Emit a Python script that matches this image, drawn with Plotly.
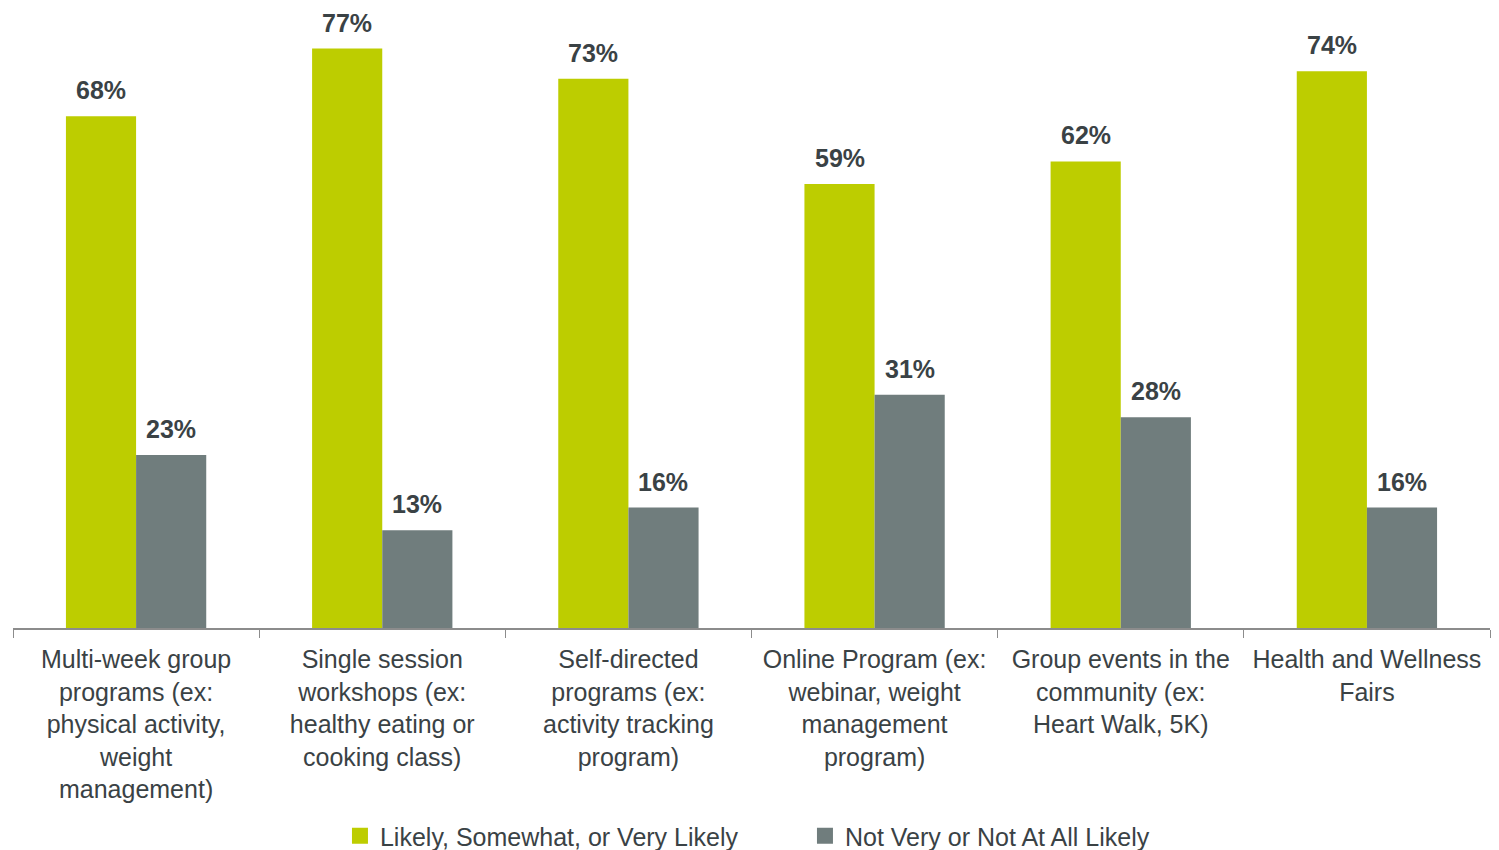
import plotly.graph_objects as go

categories = [
    "Multi-week group<br>programs (ex:<br>physical activity,<br>weight<br>management)",
    "Single session<br>workshops (ex:<br>healthy eating or<br>cooking class)",
    "Self-directed<br>programs (ex:<br>activity tracking<br>program)",
    "Online Program (ex:<br>webinar, weight<br>management<br>program)",
    "Group events in the<br>community (ex:<br>Heart Walk, 5K)",
    "Health and Wellness<br>Fairs",
]
likely = [68, 77, 73, 59, 62, 74]
not_likely = [23, 13, 16, 31, 28, 16]
series_names = ["Likely, Somewhat, or Very Likely", "Not Very or Not At All Likely"]

GREEN = "#BDCD00"
GRAY = "#707D7D"
TEXT = "#3A4245"
FONT = "Liberation Sans, Arial, sans-serif"

fig = go.Figure()
for vals, name, color in [(likely, series_names[0], GREEN), (not_likely, series_names[1], GRAY)]:
    fig.add_trace(go.Bar(x=categories, y=vals, name=name, marker_color=color,
                         marker_line_width=0, showlegend=False, cliponaxis=False))
    # legend proxy with larger square symbol
    fig.add_trace(go.Scatter(x=[None], y=[None], mode="markers", name=name,
                             marker=dict(symbol="square", size=16, color=color)))

# value labels
for vals, shift in [(likely, -35), (not_likely, 35)]:
    for c, v in zip(categories, vals):
        fig.add_annotation(x=c, y=v, text=f"<b>{v}%</b>", showarrow=False,
                           xshift=shift, yshift=10, yanchor="bottom",
                           font=dict(size=25, color=TEXT, family=FONT))

fig.update_layout(
    width=1499, height=850,
    margin=dict(l=13, r=9, t=26, b=222, autoexpand=False),
    barmode="group", bargap=0.43, bargroupgap=0,
    plot_bgcolor="white", paper_bgcolor="white",
    font=dict(family=FONT, size=25, color=TEXT),
    showlegend=True,
    legend=dict(orientation="h", xref="container", x=0.537, xanchor="center",
                yref="container", y=1 - 836 / 850, yanchor="middle",
                font=dict(size=25, color=TEXT), itemwidth=30, traceorder="normal",
                entrywidth=420),
)
fig.update_xaxes(
    showline=True, linecolor="#8C8C8C", linewidth=2,
    ticks="outside", tickson="boundaries", ticklen=8, tickcolor="#8C8C8C", tickwidth=1,
    tickangle=0, tickfont=dict(size=25, color=TEXT, family=FONT),
    showgrid=False, automargin=False, ticklabelstandoff=8,
)
fig.update_yaxes(range=[0, 80], visible=False, showgrid=False, zeroline=False)

fig.write_html("out.html", config={"displayModeBar": False},
               post_script="document.body.style.margin='0';document.body.style.overflow='hidden';")
